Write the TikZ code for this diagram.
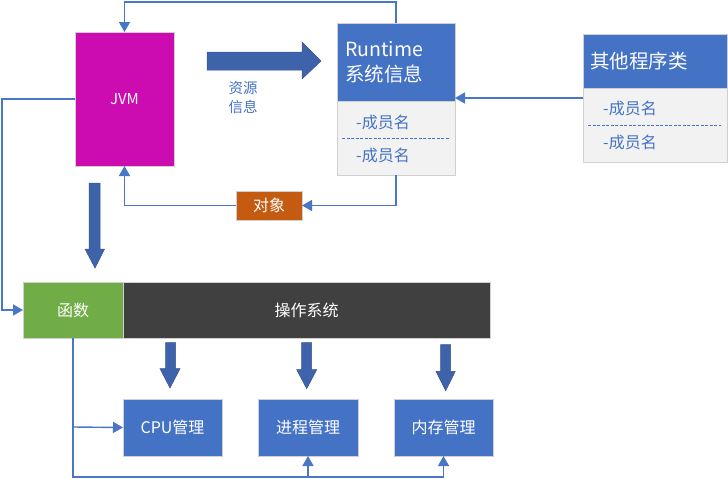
\documentclass[tikz,border=0pt]{standalone}
\usepackage{fontspec}
\setmainfont{Noto Sans CJK SC}
\usetikzlibrary{arrows.meta}
\definecolor{hdrblue}{HTML}{4472C4}
\definecolor{arrblue}{HTML}{3F63AB}
\definecolor{lnblue}{HTML}{4A76C6}
\definecolor{bodygray}{HTML}{F2F2F2}
\definecolor{bordgray}{HTML}{D0D0D0}
\definecolor{jvmmag}{HTML}{CC0BB0}
\definecolor{objorange}{HTML}{C55A11}
\definecolor{fngreen}{HTML}{70AD47}
\definecolor{osdark}{HTML}{404040}
\tikzset{
  box/.style={draw=bordgray, line width=1pt, inner sep=0pt, outer sep=0pt, anchor=north west, text=white},
  conn/.style={draw=lnblue, line width=1.4pt, -{Triangle[length=10pt,width=11pt]}},
  bigarrow/.style={fill=arrblue, draw=arrblue!85!black, line width=0.5pt},
  member/.style={text=hdrblue, anchor=west, inner sep=0pt, font=\fontsize{16}{18}\selectfont},
  hdrtxt/.style={text=white, anchor=west, inner sep=0pt, font=\fontsize{19.5}{22}\selectfont},
  dashln/.style={draw=hdrblue, line width=1pt, dash pattern=on 3pt off 1.5pt},
}
\begin{document}
\begin{tikzpicture}[x=1pt,y=-1pt]
\useasboundingbox (0,0) rectangle (728,479);
% JVM
\node[box, fill=jvmmag, minimum width=99pt, minimum height=134pt, font=\fontsize{15}{17}\selectfont] (jvm) at (75,32) {JVM};
% Runtime
\node[box, fill=hdrblue, minimum width=118pt, minimum height=78pt] (rth) at (337,23) {};
\node[box, fill=bodygray, minimum width=118pt, minimum height=74pt] (rtb) at (337,101) {};
\node[hdrtxt] (rt1) at (345,49) {Runtime};
\node[hdrtxt] (rt2) at (345,74) {系统信息};
\node[member] (rtm1) at (356,122) {-成员名};
\node[member] (rtm2) at (356,155) {-成员名};
\draw[dashln] (342,138) -- (450,138);
% other
\node[box, fill=hdrblue, minimum width=144pt, minimum height=54pt] (oth) at (583,34) {};
\node[box, fill=bodygray, minimum width=144pt, minimum height=74pt] (otb) at (583,88) {};
\node[hdrtxt] (ot1) at (590,61) {其他程序类};
\node[member] (otm1) at (603,108) {-成员名};
\node[member] (otm2) at (603,142) {-成员名};
\draw[dashln] (588,125) -- (721,125);
% object
\node[box, fill=objorange, minimum width=66pt, minimum height=29pt, font=\fontsize{16}{18}\selectfont] (obj) at (236,191) {对象};
% label
\node[text=hdrblue, inner sep=0pt, font=\fontsize{14.5}{19}\selectfont, align=left] (res) at (243,98) {资源\\信息};
% big arrows
\draw[bigarrow] (207,52) -- (302,52) -- (302,42) -- (321,61) -- (302,79) -- (302,70) -- (207,70) -- cycle;
\draw[bigarrow] (89,183) -- (100,183) -- (100,249) -- (104.5,249) -- (95,268) -- (85,249) -- (89,249) -- cycle;
\draw[bigarrow] (165.7,342.7) -- (175.7,342.7) -- (175.7,368.7) -- (180,368.7) -- (170,388) -- (160,368.7) -- (165.7,368.7) -- cycle;
\draw[bigarrow] (301.7,342.7) -- (311.7,342.7) -- (311.7,369.7) -- (316.7,369.7) -- (306.7,388.7) -- (296.7,369.7) -- (301.7,369.7) -- cycle;
\draw[bigarrow] (440.7,344.7) -- (450.7,344.7) -- (450.7,371.3) -- (455.3,371.3) -- (445.7,390.7) -- (436,371.3) -- (440.7,371.3) -- cycle;
% bottom boxes
\node[box, fill=fngreen, minimum width=100pt, minimum height=56pt, font=\fontsize{16}{18}\selectfont] (fn) at (23,282) {函数};
\node[box, fill=osdark, minimum width=367pt, minimum height=56pt, font=\fontsize{16}{18}\selectfont] (os) at (123,282) {操作系统};
\node[box, fill=hdrblue, minimum width=99pt, minimum height=57pt, font=\fontsize{16}{18}\selectfont] (cpu) at (123,399) {CPU管理};
\node[box, fill=hdrblue, minimum width=100pt, minimum height=57pt, font=\fontsize{16}{18}\selectfont] (proc) at (258,399) {进程管理};
\node[box, fill=hdrblue, minimum width=99pt, minimum height=57pt, font=\fontsize{16}{18}\selectfont] (mem) at (394,399) {内存管理};
% connectors
\draw[conn] (rth.north) -- (rth.north |- 0,2) -| (jvm.north);
\draw[conn] (rtb.south) |- (obj.east);
\draw[conn] (obj.west) -| (jvm.south);
\draw[conn] (otb.west |- 0,98) -- (rth.east |- 0,98);
\draw[conn] (jvm.west |- 0,99) -- (2,99) |- (fn.west);
\coordinate (bl) at (fn.south |- 0,477);
\coordinate (bm) at (fn.south |- 0,427);
\draw[conn] (fn.south) -- (bl) -| (mem.south);
\draw[conn] (bl) -| (proc.south);
\draw[conn] (bm) -- (cpu.west);
\end{tikzpicture}
\end{document}
